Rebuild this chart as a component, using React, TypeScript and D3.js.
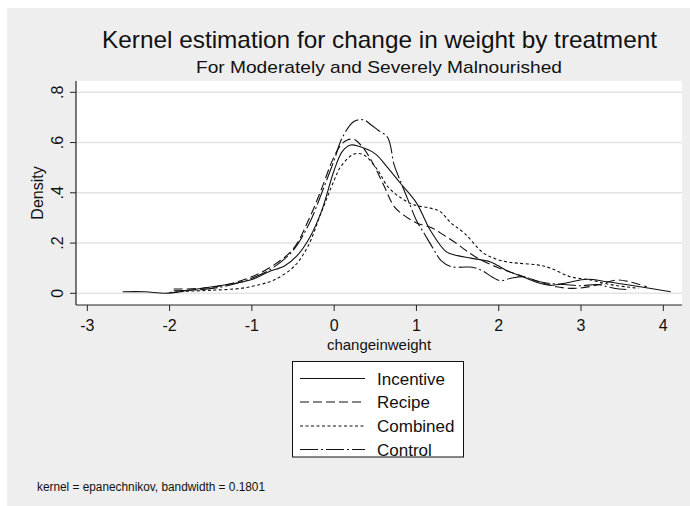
import React from 'react';
import {scaleLinear,line,curveCatmullRom} from 'd3';

// values
const incentiveX=[-2.57,-2.3,-2.05,-1.8,-1.5,-1.2,-1.0,-0.8,-0.6,-0.45,-0.3,-0.15,0,0.1,0.2,0.3,0.5,0.65,0.8,1.0,1.17,1.36,1.5,1.66,1.9,2.1,2.3,2.45,2.63,2.83,3.07,3.32,3.72,4.09];
const incentiveY=[0.006,0.006,0.0,0.01,0.025,0.04,0.055,0.085,0.11,0.15,0.22,0.33,0.49,0.565,0.59,0.585,0.555,0.5,0.44,0.36,0.25,0.166,0.15,0.14,0.125,0.09,0.065,0.045,0.032,0.042,0.056,0.046,0.026,0.006];

const recipeX=[-1.95,-1.6,-1.3,-1.0,-0.73,-0.49,-0.3,-0.16,-0.02,0.08,0.16,0.24,0.35,0.47,0.61,0.73,0.85,1.0,1.19,1.33,1.48,1.62,1.78,1.98,2.18,2.43,2.7,2.95,3.2,3.44,3.6,3.8];
const recipeY=[0.017,0.02,0.035,0.066,0.113,0.18,0.3,0.41,0.53,0.59,0.61,0.613,0.58,0.518,0.425,0.345,0.31,0.28,0.26,0.232,0.2,0.166,0.133,0.104,0.08,0.053,0.026,0.02,0.033,0.053,0.045,0.026];

const combinedX=[-2.0,-1.8,-1.5,-1.13,-0.9,-0.73,-0.49,-0.32,-0.16,0,0.08,0.24,0.36,0.53,0.65,0.81,0.97,1.17,1.29,1.42,1.58,1.82,1.98,2.1,2.23,2.47,2.63,2.87,3.12,3.35,3.7];
const combinedY=[0.003,0.008,0.012,0.02,0.035,0.053,0.106,0.186,0.319,0.45,0.504,0.554,0.551,0.49,0.425,0.38,0.352,0.339,0.325,0.28,0.24,0.159,0.135,0.125,0.12,0.113,0.1,0.066,0.053,0.035,0.02];

const controlX=[-1.95,-1.6,-1.3,-1.0,-0.75,-0.5,-0.3,-0.15,0,0.1,0.24,0.36,0.45,0.53,0.65,0.73,0.8,0.9,1.0,1.1,1.2,1.3,1.42,1.55,1.68,1.8,1.92,2.02,2.15,2.3,2.45,2.6,2.8,3.0,3.2,3.4,3.55];
const controlY=[0.01,0.015,0.03,0.06,0.1,0.17,0.28,0.4,0.53,0.62,0.684,0.69,0.67,0.65,0.62,0.51,0.45,0.37,0.29,0.235,0.18,0.13,0.106,0.104,0.104,0.09,0.065,0.05,0.06,0.066,0.05,0.04,0.035,0.03,0.035,0.02,0.015];

const seriesNames=["Incentive","Recipe","Combined","Control"];
const seriesDash=["none","9,4","3,2.5","18,3,2,3"];

const xTicks=[-3,-2,-1,0,1,2,3,4];
const yTicks=[0,0.2,0.4,0.6,0.8];
const yTickLabels=["0",".2",".4",".6",".8"];

const font="'Liberation Sans', Arial, Helvetica, sans-serif";

export default function App(){
  const W=690,H=506;
  const left=76,right=682,top=81,bottom=305;

  const x=scaleLinear().domain([-3,4]).range([87.3,663.3]);
  const y=scaleLinear().domain([0,0.8]).range([293.3,92.3]);

  const gen=line<[number,number]>()
    .x(d=>x(d[0]))
    .y(d=>y(d[1]))
    .curve(curveCatmullRom.alpha(0.5));

  const series=[
    incentiveX.map((v,i)=>[v,incentiveY[i]] as [number,number]),
    recipeX.map((v,i)=>[v,recipeY[i]] as [number,number]),
    combinedX.map((v,i)=>[v,combinedY[i]] as [number,number]),
    controlX.map((v,i)=>[v,controlY[i]] as [number,number]),
  ];

  const legX=292.5,legY=361.5,legW=171,legH=95.5;
  const rowY=[378.5,402,426,449.5];

  return (
    <svg width={W} height={H} style={{position:'absolute',left:0,top:0,fontFamily:font}}>
      <rect x={0} y={0} width={W} height={H} fill="#ffffff"/>
      <rect x={7} y={8} width={W-7} height={H-8} fill="#eeeeee"/>

      <text x={379.5} y={48.3} fontSize={24} textAnchor="middle" fill="#111"
        textLength={555} lengthAdjust="spacingAndGlyphs">Kernel estimation for change in weight by treatment</text>
      <text x={379} y={73.3} fontSize={17} textAnchor="middle" fill="#111"
        textLength={366} lengthAdjust="spacingAndGlyphs">For Moderately and Severely Malnourished</text>

      <rect x={left} y={top} width={right-left} height={bottom-top} fill="#ffffff"/>

      {yTicks.map(t=>(
        <line key={'g'+t} x1={left} x2={right} y1={y(t)} y2={y(t)} stroke="#e3e3e3" strokeWidth={1.5}/>
      ))}

      {series.map((pts,i)=>(
        <path key={seriesNames[i]} d={gen(pts)||''} fill="none" stroke="#111"
          strokeWidth={1.1} strokeDasharray={seriesDash[i]}/>
      ))}

      <line x1={left} x2={left} y1={top} y2={bottom} stroke="#222" strokeWidth={1.2}/>
      <line x1={left} x2={right} y1={bottom} y2={bottom} stroke="#222" strokeWidth={1.2}/>

      {yTicks.map((t,i)=>(
        <g key={'y'+t}>
          <line x1={left-6} x2={left} y1={y(t)} y2={y(t)} stroke="#222"/>
          <text transform={`translate(62.5,${y(t)}) rotate(-90)`} fontSize={16} textAnchor="middle" fill="#111">{yTickLabels[i]}</text>
        </g>
      ))}
      <text transform="translate(43,193) rotate(-90)" fontSize={16} textAnchor="middle" fill="#111">Density</text>

      {xTicks.map(t=>(
        <g key={'x'+t}>
          <line x1={x(t)} x2={x(t)} y1={bottom} y2={bottom+6} stroke="#222"/>
          <text x={x(t)} y={330.5} fontSize={16} textAnchor="middle" fill="#111">{t}</text>
        </g>
      ))}
      <text x={379} y={349.5} fontSize={15} textAnchor="middle" fill="#111">changeinweight</text>

      <rect x={legX} y={legY} width={legW} height={legH} fill="#ffffff" stroke="#111" strokeWidth={1}/>
      {seriesNames.map((n,i)=>(
        <g key={'l'+n}>
          <line x1={300} x2={365} y1={rowY[i]} y2={rowY[i]} stroke="#111" strokeWidth={1.1} strokeDasharray={seriesDash[i]}/>
          <text x={377} y={rowY[i]+6} fontSize={17} fill="#111">{n}</text>
        </g>
      ))}

      <text x={37} y={491} fontSize={12} fill="#111" textLength={228} lengthAdjust="spacingAndGlyphs">kernel = epanechnikov, bandwidth = 0.1801</text>
    </svg>
  );
}
